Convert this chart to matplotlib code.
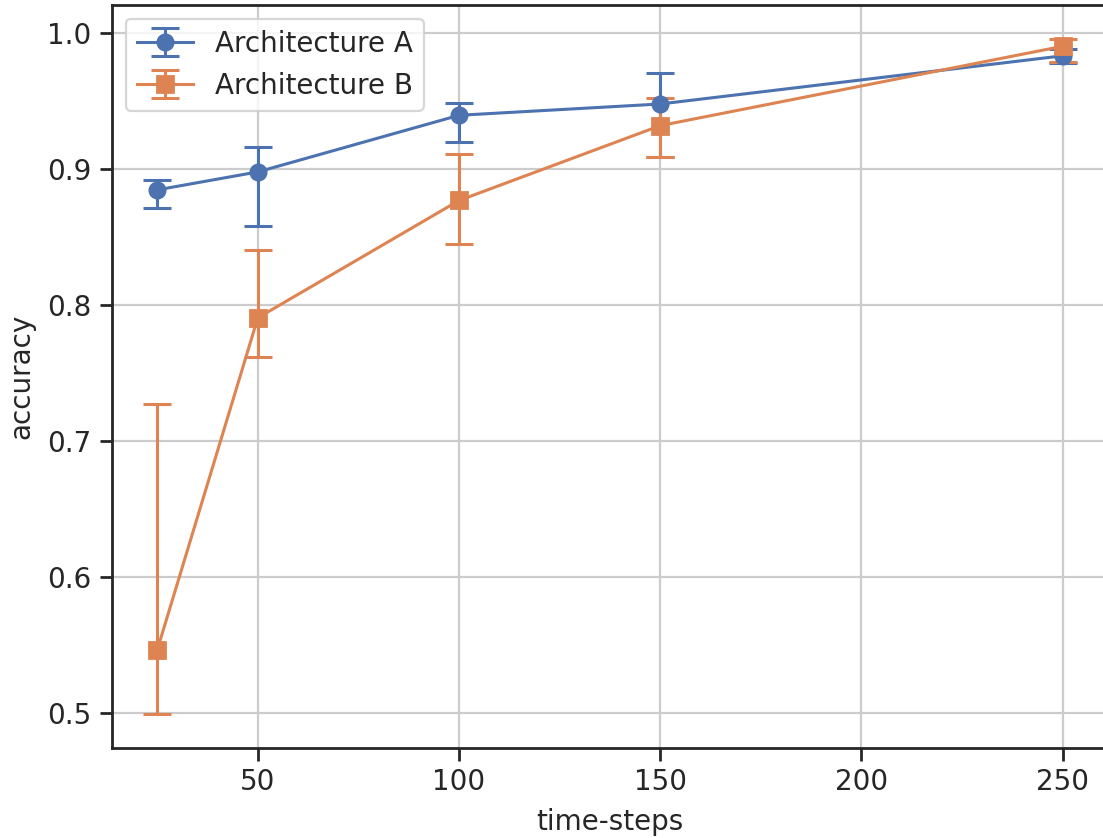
import matplotlib
matplotlib.use("Agg")
import matplotlib.pyplot as plt
import numpy as np

# values
steps = [25, 50, 100, 150, 250]

acc_a = [0.8845, 0.8977, 0.9393, 0.9476, 0.983]
low_a = [0.8713, 0.8583, 0.9198, 0.9085, 0.978]
high_a = [0.8918, 0.9163, 0.9484, 0.9704, 0.988]

acc_b = [0.5465, 0.7905, 0.8767, 0.9317, 0.990]
low_b = [0.4995, 0.7614, 0.8448, 0.9090, 0.9785]
high_b = [0.7269, 0.8400, 0.9107, 0.9518, 0.9955]

blue = "#4C72B0"
orange = "#DD8452"

plt.rcParams["font.family"] = "DejaVu Sans"
plt.rcParams["font.size"] = 10
plt.rcParams["text.color"] = "#262626"
plt.rcParams["axes.labelcolor"] = "#262626"
plt.rcParams["xtick.color"] = "#262626"
plt.rcParams["ytick.color"] = "#262626"

fig = plt.figure(figsize=(5.515, 4.19), dpi=200)
ax = fig.add_axes([0.1015, 0.1078, 0.903, 0.8862])

def err(y, lo, hi):
    y = np.array(y)
    return [y - np.array(lo), np.array(hi) - y]

ax.errorbar(steps, acc_a, yerr=err(acc_a, low_a, high_a), color=blue,
            marker="o", markersize=5.5, linewidth=1.1, elinewidth=1.1,
            capsize=5, capthick=1.1, label="Architecture A")
ax.errorbar(steps, acc_b, yerr=err(acc_b, low_b, high_b), color=orange,
            marker="s", markersize=5.5, linewidth=1.1, elinewidth=1.1,
            capsize=5, capthick=1.1, label="Architecture B")

ax.set_xticks([50, 100, 150, 200, 250])
ax.set_yticks([0.5, 0.6, 0.7, 0.8, 0.9, 1.0])
ax.grid(True, color="#cccccc", linewidth=0.8)
ax.set_axisbelow(True)
for s in ax.spines.values():
    s.set_linewidth(1.0)
    s.set_color("#262626")
ax.tick_params(length=4.5, width=1.0, pad=3)

ax.set_xlabel("time-steps")
ax.set_ylabel("accuracy")

leg = ax.legend(loc="upper left", frameon=True, fancybox=True)
leg.get_frame().set_edgecolor("#cccccc")
leg.get_frame().set_linewidth(0.8)

fig.savefig("out.png", dpi=200)
